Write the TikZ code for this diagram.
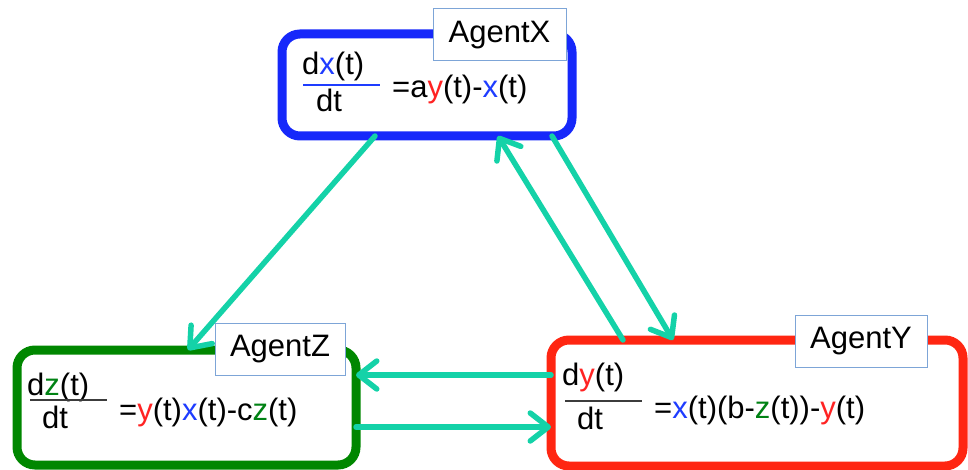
\documentclass[tikz,border=0pt]{standalone}
\usepackage{fontspec}
\setmainfont{Liberation Sans}
\usetikzlibrary{arrows.meta}
\definecolor{bxblue}{RGB}{22,40,250}
\definecolor{bxred}{RGB}{255,38,18}
\definecolor{bxgreen}{RGB}{0,135,0}
\definecolor{tblue}{RGB}{30,60,255}
\definecolor{tred}{RGB}{255,35,35}
\definecolor{tgreen}{RGB}{0,130,20}
\definecolor{arrcol}{RGB}{20,210,168}
\definecolor{lblborder}{RGB}{125,165,215}
\definecolor{rulegray}{RGB}{60,60,60}
\tikzset{
  agentbox/.style={draw, rectangle, rounded corners=18pt, line width=9pt, outer sep=0pt, inner sep=0pt, fill=white},
  agentlabel/.style={draw=lblborder, line width=1pt, fill=white, rectangle, inner sep=0pt, font=\fontsize{31}{36}\selectfont},
  eqtext/.style={anchor=base west, inner sep=0pt, font=\fontsize{31}{36}\selectfont},
  fracrule/.style={line width=1.6pt},
  flow/.style={draw=arrcol, line width=5.5pt, line cap=round, -{Straight Barb[length=18pt,width=28pt,line cap=round,line join=round]}}
}
\newcommand{\cx}{\textcolor{tblue}{x}}
\newcommand{\cy}{\textcolor{tred}{y}}
\newcommand{\cz}{\textcolor{tgreen}{z}}
\begin{document}
\begin{tikzpicture}[x=1pt,y=-1pt]
\useasboundingbox (0,0) rectangle (968,470);
% boxes
\node[agentbox, draw=bxblue, minimum width=290pt, minimum height=102pt] (X) at (427,85) {};
\node[agentbox, draw=bxgreen, minimum width=339pt, minimum height=115pt] (Z) at (186.5,407.5) {};
\node[agentbox, draw=bxred, minimum width=412pt, minimum height=126pt] (Y) at (757,403) {};
% labels
\node[agentlabel, minimum width=133pt, minimum height=52pt] (LX) at (499.5,35) {AgentX};
\node[agentlabel, minimum width=130pt, minimum height=52pt] (LZ) at (280,349) {AgentZ};
\node[agentlabel, minimum width=132pt, minimum height=52pt] (LY) at (861,341) {AgentY};
% equation X
\node[eqtext] (nx) at (302,75) {d\cx(t)};
\node[eqtext] (dx) at (316,112) {dt};
\node[eqtext] (ex) at (392,98) {=a\cy(t)-\cx(t)};
\draw[fracrule, draw=tblue] (303,85) -- (380,85);
% equation Z
\node[eqtext] (nz) at (27,395) {d\cz(t)};
\node[eqtext] (dz) at (42,428) {dt};
\node[eqtext] (ez) at (119,420) {=\cy(t)\cx(t)-c\cz(t)};
\draw[fracrule, draw=rulegray] (30,400) -- (107,400);
% equation Y
\node[eqtext] (ny) at (562,385) {d\cy(t)};
\node[eqtext] (dy) at (577,429) {dt};
\node[eqtext] (ey) at (654,418) {=\cx(t)(b-\cz(t))-\cy(t)};
\draw[fracrule, draw=rulegray] (565,401) -- (642,401);
% connector guides
\coordinate (g1) at (375,0);
\coordinate (h1) at (188,0);
\coordinate (g2) at (623,0);
\coordinate (h2) at (498,0);
\coordinate (g3) at (552,0);
\coordinate (h3) at (673,0);
\coordinate (v4) at (0,375);
\coordinate (v5) at (0,427);
% connectors
\draw[flow] (X.south -| g1) -- (Z.north -| h1);
\draw[flow] (Y.north -| g2) -- (X.south -| h2);
\draw[flow] (X.south -| g3) -- (Y.north -| h3);
\draw[flow] (Y.west |- v4) -- (Z.east |- v4);
\draw[flow] (Z.east |- v5) -- (Y.west |- v5);
\end{tikzpicture}
\end{document}
